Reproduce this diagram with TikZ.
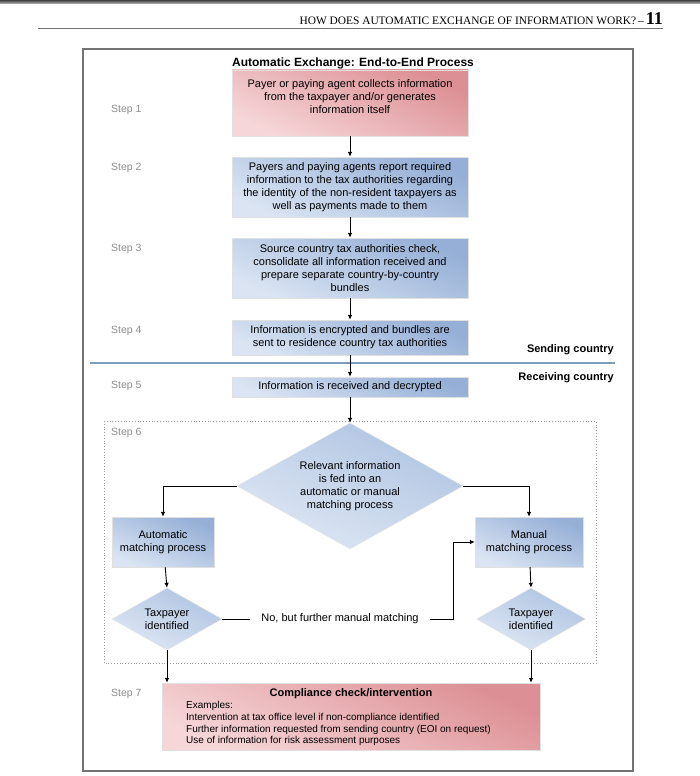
\documentclass[tikz,border=0pt]{standalone}
\usepackage{fontspec}
\setmainfont{Liberation Sans}
\newfontfamily\headfont{Liberation Serif}
\usetikzlibrary{shapes.geometric,arrows.meta}
\definecolor{rosedark}{HTML}{DC8F94}
\definecolor{roselight}{HTML}{F6D6D8}
\definecolor{bluedark}{HTML}{95AFD6}
\definecolor{bluelight}{HTML}{DAE4F3}
\definecolor{diadark}{HTML}{AFC4E2}
\definecolor{dialight}{HTML}{DEE7F3}
\definecolor{divider}{HTML}{7E9CC0}
\definecolor{steptext}{HTML}{8E8E8E}

\begin{document}
\begin{tikzpicture}[x=1pt,y=-1pt,
    every node/.style={font=\fontsize{11}{13}\selectfont, inner sep=0pt},
    redbox/.style={draw=black!12, top color=rosedark, bottom color=roselight, shading angle=-25, align=center, minimum width=236},
    bluebox/.style={draw=black!12, top color=bluedark, bottom color=bluelight, shading angle=-25, align=center, minimum width=236},
    decision/.style={diamond, aspect=1.8, draw=black!10, top color=diadark, bottom color=dialight, shading angle=-25, align=center},
    steplbl/.style={anchor=west, text=steptext, font=\fontsize{10.5}{12}\selectfont},
    flow/.style={-{Latex[length=5pt,width=4.5pt]}, line width=0.9pt}]
  \useasboundingbox (0,0) rectangle (700,776);
  \fill[white] (0,0) rectangle (700,776);
  % page header
  \shade[top color=black!75, bottom color=black!25] (0,0) rectangle (700,4);
  \node[anchor=base east] (header) at (663,25) {\headfont\fontsize{11.4}{12}\selectfont HOW DOES AUTOMATIC EXCHANGE OF INFORMATION WORK?\,–\,{\fontsize{18}{18}\selectfont\bfseries 11}};
  \draw[black!55, line width=1.2pt] (38,28.5) -- (663,28.5);
  % frame
  \draw[black!55, line width=1.2pt] (83,49) rectangle (633,771);
  \draw[black!40, dotted, line width=0.8pt] (104,421) rectangle (596,663);
  \draw[divider, line width=1.5pt] (90,363) -- (615,363);
  \node[font=\fontsize{12}{14}\selectfont\bfseries] (title) at (353,63) {Automatic Exchange: End-to-End Process};
  \foreach \n/\y in {1/110,2/168,3/249,4/331,5/386,6/433,7/694} {
    \node[steplbl] (step\n) at (111,\y) {Step \n};
  }
  \node[font=\fontsize{11}{13}\selectfont\bfseries, anchor=east] (sending) at (614,350) {Sending country};
  \node[font=\fontsize{11}{13}\selectfont\bfseries, anchor=east] (receiving) at (614,378) {Receiving country};
  % steps 1 to 5
  \node[redbox, minimum height=66] (payer) at (350,103) {Payer or paying agent collects information\\from the taxpayer and/or generates\\information itself\\ ~};
  \node[bluebox, minimum height=60] (report) at (350,187) {Payers and paying agents report required\\information to the tax authorities regarding\\the identity of the non-resident taxpayers as\\well as payments made to them};
  \node[bluebox, minimum height=60] (check) at (350,268) {Source country tax authorities check,\\consolidate all information received and\\prepare separate country-by-country\\bundles};
  \node[bluebox, minimum height=35] (encrypt) at (350,337.5) {Information is encrypted and bundles are\\sent to residence country tax authorities};
  \node[bluebox, minimum height=20] (decrypt) at (350,387) {Information is received and decrypted};
  % step 6
  \node[decision, minimum width=226, minimum height=126] (feed) at (350,486) {Relevant information\\is fed into an\\automatic or manual\\matching process};
  \node[bluebox, minimum width=102, minimum height=50] (auto) at (163,542) {Automatic\\matching process};
  \node[bluebox, minimum width=108, minimum height=50] (manual) at (529,542) {Manual\\matching process};
  \node[decision, minimum width=110, minimum height=62] (tpl) at (167,619) {Taxpayer\\identified};
  \node[decision, minimum width=109, minimum height=62] (tpr) at (531,619) {Taxpayer\\identified};
  \node[inner xsep=11pt] (nomatch) at (340,619) {No, but further manual matching};
  % step 7
  \node[redbox, minimum width=378, minimum height=67] (comp) at (351,716.5) {};
  \node[font=\fontsize{11}{13}\selectfont\bfseries] (comptitle) at (351,694) {Compliance check/intervention};
  \node[anchor=north west, align=left, font=\fontsize{10}{11.8}\selectfont] (examples) at (186,701) {Examples:\\Intervention at tax office level if non-compliance identified\\Further information requested from sending country (EOI on request)\\Use of information for risk assessment purposes};
  % connectors
  \draw[flow] (payer) -- (report);
  \draw[flow] (report) -- (check);
  \draw[flow] (check) -- (encrypt);
  \draw[flow] (encrypt) -- (decrypt);
  \draw[flow] (decrypt) -- (feed.north);
  \draw[flow] (feed.west) -| (auto.north);
  \draw[flow] (feed.east) -| (manual.north);
  \draw[flow] (auto) -- (tpl.north);
  \draw[flow] (manual) -- (tpr.north);
  \draw[line width=0.9pt] (tpl.east) -- (nomatch.west);
  \draw[flow] (nomatch.east) -- ++(24,0) |- (manual.west);
  \draw[flow] (tpl.south) -- (tpl.south |- comp.north);
  \draw[flow] (tpr.south) -- (tpr.south |- comp.north);
\end{tikzpicture}
\end{document}
